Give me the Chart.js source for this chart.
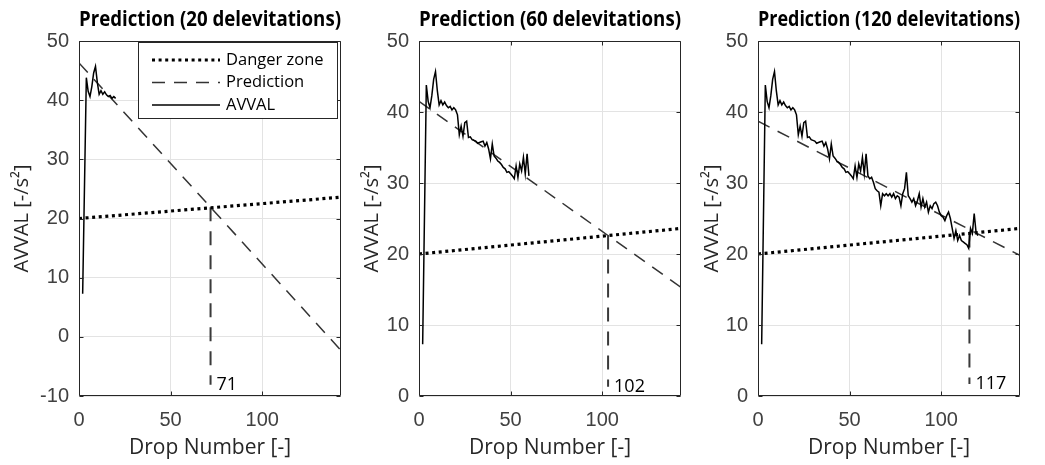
<!DOCTYPE html>
<html><head><meta charset="utf-8">
<script src="https://cdn.jsdelivr.net/npm/chart.js@4.4.1/dist/chart.umd.min.js"></script>
<style>
html,body{margin:0;padding:0;background:#fff;overflow:hidden;width:1045px;height:465px;}
canvas{position:absolute;top:0;}
</style></head><body>
<canvas id="c0"></canvas><canvas id="c1"></canvas><canvas id="c2"></canvas>
<script>
// ---------- data ----------
const panelTitles = ['Prediction (20 delevitations)', 'Prediction (60 delevitations)', 'Prediction (120 delevitations)'];
const delevitations = [20, 60, 120];
const avvalDrops = [2,4,5,6,7,8,9,10,11,12,13,14,15,16,17,18,19,20,
  21,22,23,24,25,26,27,28,29,30,31,32,33,34,35,36,37,38,39,40,
  41,42,43,44,45,46,47,48,49,50,51,52,53,54,55,56,57,58,59,60,
  61,62,63,64,65,66,67,68,69,70,71,72,73,74,75,76,77,78,79,80,
  81,82,83,84,85,86,87,88,89,90,91,92,93,94,95,96,97,98,99,100,
  101,102,103,104,105,106,107,108,109,110,111,112,113,114,115,116,117,118,119,120];
const avvalValues = [7.3,43.8,41.5,40.6,42.3,44.6,45.7,43.0,41.0,41.6,41.0,41.4,40.9,40.6,40.8,40.3,40.6,40.3,
  39.6,36.8,38.0,36.6,38.5,38.7,36.4,36.5,36.1,36.0,35.9,35.6,35.7,35.8,35.9,35.2,35.7,34.8,33.4,35.5,
  33.8,33.5,33.1,32.9,32.6,32.2,32.0,31.5,31.6,31.3,31.0,30.6,32.4,30.8,32.7,31.7,33.6,31.3,34.1,31.0,
  30.6,30.8,30.1,29.2,28.9,28.7,26.8,28.5,28.2,28.5,28.2,28.5,28.0,28.5,27.8,28.2,28.0,26.8,28.5,29.2,
  31.5,28.2,27.8,27.3,27.8,26.8,27.5,28.5,26.6,27.8,26.6,27.3,25.9,26.8,26.4,27.1,27.3,26.8,25.9,25.4,
  25.2,24.7,25.4,25.9,25.0,23.6,22.2,23.3,21.9,22.6,21.9,21.7,21.5,21.3,20.8,23.6,22.9,25.7,23.1,22.6];
const dangerDrops = [0, 143];
const dangerValues = [20, 23.6];
const predictionDrops = [0, 143];
const predictionStart = [46.3, 41.5, 38.7];
const predictionEnd = [-2.3, 15.3, 19.8];
const crossDrop = [71.8, 103.2, 115.4];
const crossValue = [21.9, 22.6, 22.9];
const crossBottom = [-8.1, 1.3, 1.7];
const crossLabels = ['71', '102', '117'];
const yMinimum = [-10, 0, 0];
const yMaximum = 50;
const xMaximum = 143;
const seriesNames = ['Danger zone', 'Prediction', 'AVVAL'];

// ---------- layout (pixels) ----------
const canvasLeft = [0, 345, 690];
const yAxisWidth = [79, 74, 68];   // space left of each plot box
const yTitleCenter = [22, 27, 22]; // x of the y-axis title centre inside each canvas
const plotWidth = 262;
const H = 465;

const TXT = '#262626';
const framePlugin = {
  id: 'frame',
  afterDatasetsDraw(chart, args, opts) {
    const {ctx, chartArea: a, scales: {x, y}} = chart;
    const L = Math.round(a.left) + 0.5, R = Math.round(a.right) - 0.5;
    const T = Math.round(a.top) + 0.5, B = Math.round(a.bottom) - 0.5;
    ctx.save();
    ctx.strokeStyle = TXT; ctx.lineWidth = 1;
    ctx.beginPath();
    ctx.rect(L, T, R - L, B - T);
    const tl = 4;
    x.ticks.forEach(t => {
      const p = Math.round(x.getPixelForValue(t.value)) + 0.5;
      ctx.moveTo(p, B); ctx.lineTo(p, B - tl);
      ctx.moveTo(p, T); ctx.lineTo(p, T + tl);
    });
    y.ticks.forEach(t => {
      const p = Math.round(y.getPixelForValue(t.value)) + 0.5;
      ctx.moveTo(L, p); ctx.lineTo(L + tl, p);
      ctx.moveTo(R, p); ctx.lineTo(R - tl, p);
    });
    ctx.stroke();
    // crossing label
    const i = opts.index;
    ctx.fillStyle = '#000';
    ctx.font = '18px "Open Sans"';
    ctx.textAlign = 'left'; ctx.textBaseline = 'middle';
    ctx.fillText(crossLabels[i], x.getPixelForValue(crossDrop[i]) + 6, y.getPixelForValue(crossBottom[i]));
    // legend (first panel only)
    if (opts.legend) {
      const bx = a.left + 59, by = a.top + 1, bw = 199, bh = 76;
      ctx.fillStyle = '#fff';
      ctx.fillRect(bx, by, bw, bh);
      ctx.strokeStyle = TXT; ctx.lineWidth = 1;
      ctx.strokeRect(Math.round(bx) + 0.5, Math.round(by) + 0.5, bw, bh);
      const ds = chart.data.datasets;
      ctx.font = '16.5px "Open Sans"';
      ctx.textBaseline = 'middle';
      for (let k = 0; k < 3; k++) {
        const d = ds[k];
        const yy = by + 18 + k * 22.5;
        ctx.save();
        ctx.strokeStyle = d.borderColor; ctx.lineWidth = d.borderWidth;
        ctx.setLineDash(d.borderDash || []);
        ctx.beginPath(); ctx.moveTo(bx + 14, yy); ctx.lineTo(bx + 82, yy); ctx.stroke();
        ctx.restore();
        ctx.fillStyle = '#000';
        ctx.fillText(d.label, bx + 88, yy);
      }
    }
    ctx.restore();
  }
};

function pts(xs, ys) { return xs.map((v, i) => ({x: v, y: ys[i]})); }

for (let i = 0; i < 3; i++) {
  const cv = document.getElementById('c' + i);
  const W = 2 * yAxisWidth[i] + plotWidth;
  cv.width = W; cv.height = H;
  cv.style.left = canvasLeft[i] + 'px';
  cv.style.width = W + 'px'; cv.style.height = H + 'px';
  const n = avvalDrops.filter(d => d <= delevitations[i]).length;
  const yTitleFont = 20;
  new Chart(cv, {
    type: 'line',
    data: {
      datasets: [
        {label: seriesNames[0], data: pts(dangerDrops, dangerValues), borderColor: '#000', borderWidth: 3.2, borderDash: [3, 3.6], pointRadius: 0, order: 2},
        {label: seriesNames[1], data: pts(predictionDrops, [predictionStart[i], predictionEnd[i]]), borderColor: '#333', borderWidth: 1.5, borderDash: [13, 9], pointRadius: 0, order: 1},
        {label: seriesNames[2], data: pts(avvalDrops.slice(0, n), avvalValues.slice(0, n)), borderColor: '#000', borderWidth: 1.5, pointRadius: 0, order: 0},
        {label: 'cross', data: pts([crossDrop[i], crossDrop[i]], [crossValue[i], crossBottom[i]]), borderColor: '#3a3a3a', borderWidth: 2, borderDash: [14, 10], pointRadius: 0, order: 3}
      ]
    },
    options: {
      responsive: false, animation: false, devicePixelRatio: 1,
      layout: {padding: {left: 0, right: yAxisWidth[i], top: 0, bottom: 0}},
      plugins: {
        legend: {display: false}, tooltip: {enabled: false},
        title: {display: true, fullSize: false, text: panelTitles[i], color: '#000',
          font: {family: 'Open Sans', size: 21, weight: 'bold'}, padding: {top: 7, bottom: 8.8}},
        frame: {index: i, legend: i === 0}
      },
      scales: {
        x: {type: 'linear', min: 0, max: xMaximum,
          afterFit: s => { s.height = 69; },
          ticks: {stepSize: 50, includeBounds: false, color: '#404040', padding: 12,
            font: {family: 'Liberation Sans', size: 20}},
          grid: {color: '#e3e3e3', drawTicks: false}, border: {display: false},
          title: {display: true, text: 'Drop Number [-]', color: TXT,
            font: {family: 'Open Sans', size: 21}, padding: {top: 0, bottom: 4}}
        },
        y: {type: 'linear', min: yMinimum[i], max: yMaximum,
          afterFit: s => { s.width = yAxisWidth[i]; },
          ticks: {stepSize: 10, color: '#404040', padding: 10,
            font: {family: 'Liberation Sans', size: 20}},
          grid: {color: '#e3e3e3', drawTicks: false}, border: {display: false},
          title: {display: true, text: 'AVVAL [-/s²]', color: TXT,
            font: {family: 'Open Sans', size: yTitleFont},
            padding: {top: yTitleCenter[i] - yTitleFont * 0.6, bottom: 0}}
        }
      }
    },
    plugins: [framePlugin]
  });
}
</script>
</body></html>
